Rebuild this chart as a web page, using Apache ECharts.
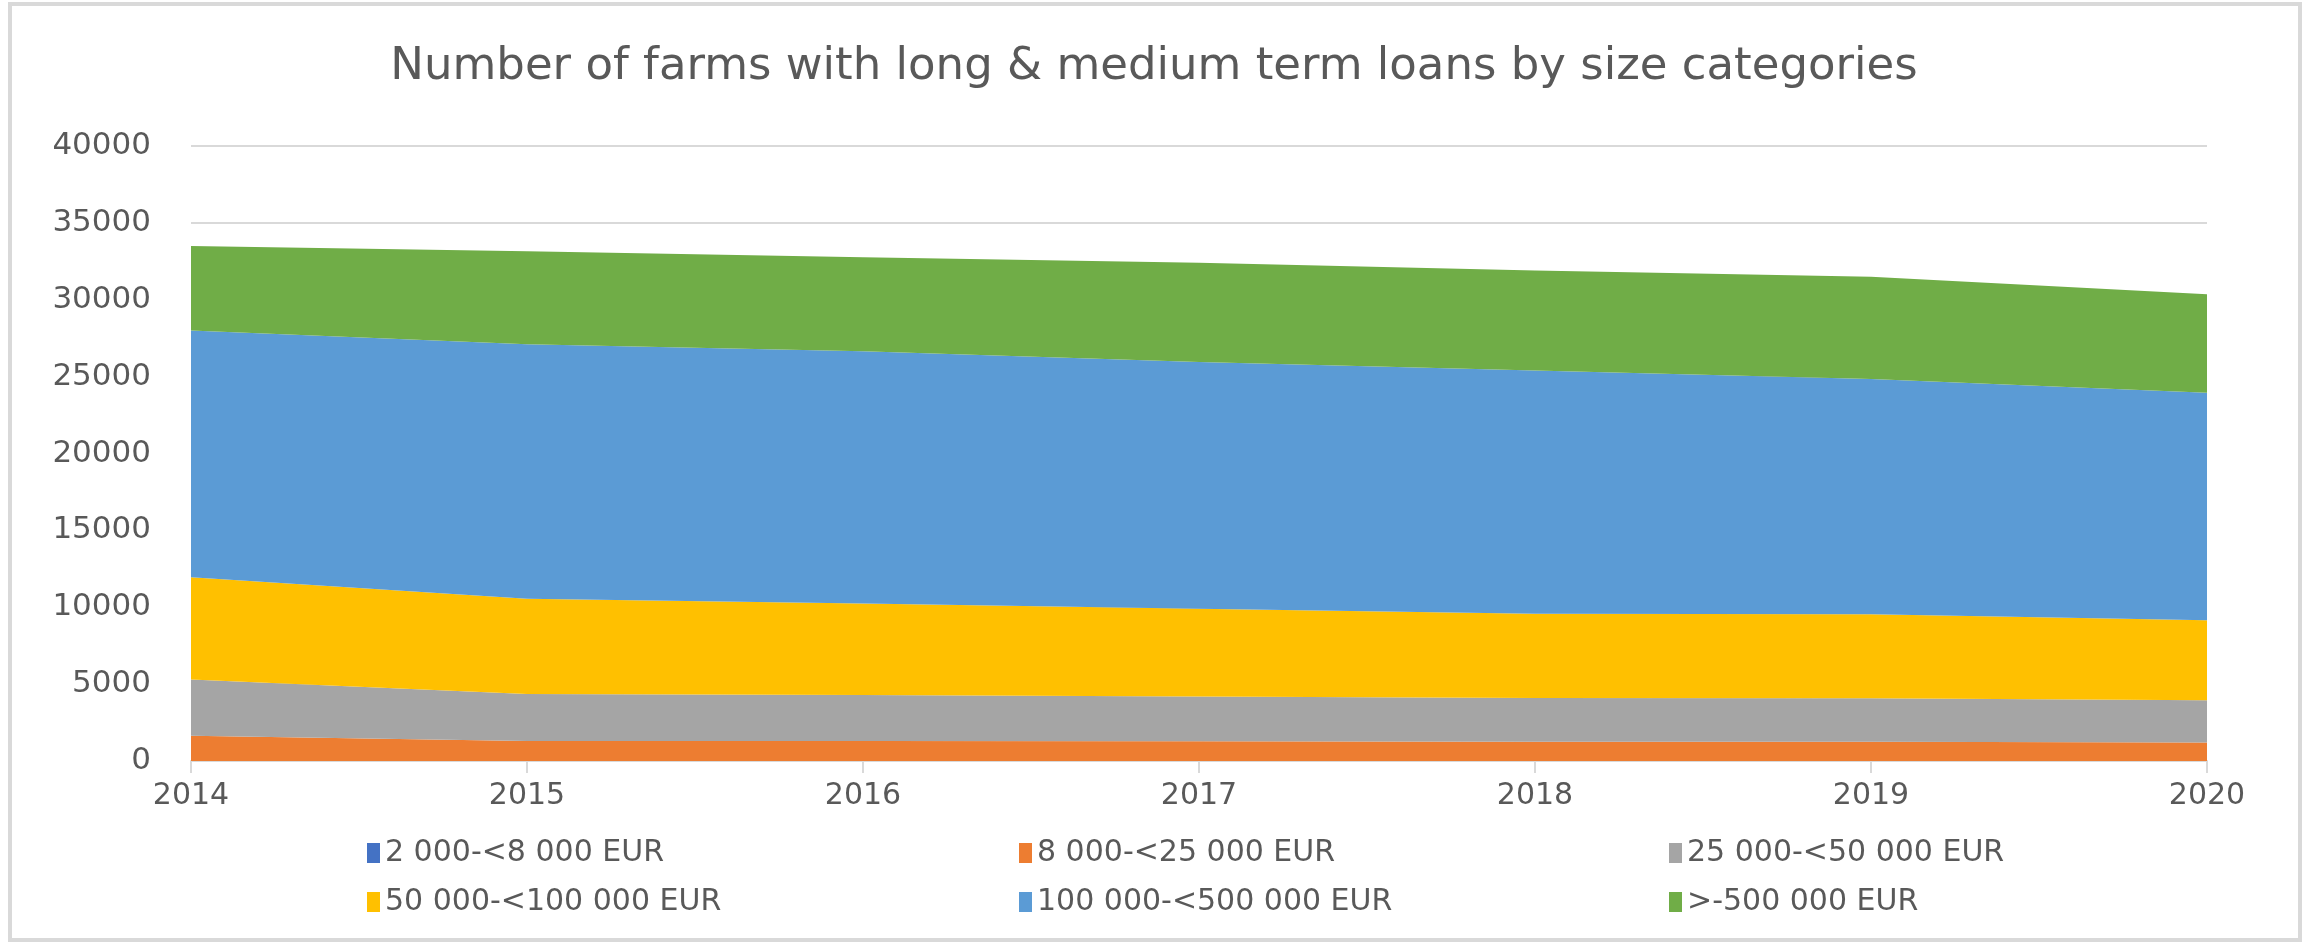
<!DOCTYPE html>
<html>
<head>
<meta charset="utf-8">
<script src="https://cdn.jsdelivr.net/npm/echarts@6/dist/echarts.min.js"></script>
<style>
  html, body { margin: 0; padding: 0; background: #fff; }
  #chart { width: 2308px; height: 945px; }
</style>
</head>
<body>
<div id="chart"></div>
<script>
// data
const years = ['2014', '2015', '2016', '2017', '2018', '2019', '2020'];
const seriesNames = [
  '2 000-<8 000 EUR',
  '8 000-<25 000 EUR',
  '25 000-<50 000 EUR',
  '50 000-<100 000 EUR',
  '100 000-<500 000 EUR',
  '>-500 000 EUR'
];
const size2to8 = [0, 0, 0, 0, 0, 0, 0];
const size8to25 = [1650, 1300, 1300, 1280, 1250, 1250, 1200];
const size25to50 = [3650, 3050, 3000, 2920, 2850, 2830, 2750];
const size50to100 = [6650, 6210, 5950, 5700, 5480, 5470, 5200];
const size100to500 = [16050, 16540, 16400, 16050, 15820, 15300, 14800];
const sizeOver500 = [5500, 6050, 6120, 6450, 6500, 6650, 6400];

const colors = ['#4472C4', '#ED7D31', '#A5A5A5', '#FFC000', '#5B9BD5', '#70AD47'];
const values = [size2to8, size8to25, size25to50, size50to100, size100to500, sizeOver500];

const textColor = '#595959';
const font = 'DejaVu Sans';

const chart = echarts.init(document.getElementById('chart'));

// one legend per item so they sit in three fixed columns
const legendLeft = [362, 1014, 1664];
const legendTop = [833, 882];
const legends = seriesNames.map((name, i) => ({
  data: [name],
  left: legendLeft[i % 3],
  top: legendTop[Math.floor(i / 3)],
  icon: 'rect',
  itemWidth: 13,
  itemHeight: 20,
  itemGap: 0,
  selectedMode: false,
  textStyle: { fontFamily: font, fontSize: 30, color: textColor, padding: [0, 0, 0, 0] }
}));

const option = {
  animation: false,
  color: colors,
  title: {
    text: 'Number of farms with long & medium term loans by size categories',
    left: 'center',
    top: 40,
    textStyle: { fontFamily: font, fontSize: 45, fontWeight: 'normal', color: textColor }
  },
  legend: legends,
  grid: { left: 191, right: 101, top: 146, bottom: 184 },
  xAxis: {
    type: 'category',
    boundaryGap: false,
    data: years,
    axisLine: { lineStyle: { color: '#d9d9d9', width: 2 } },
    axisTick: { show: true, length: 12, lineStyle: { color: '#d9d9d9', width: 2 } },
    axisLabel: { fontFamily: font, fontSize: 30, color: textColor, margin: 20 }
  },
  yAxis: {
    type: 'value',
    min: 0,
    max: 40000,
    interval: 5000,
    axisLine: { show: false },
    axisTick: { show: false },
    splitLine: { lineStyle: { color: '#d9d9d9', width: 2 } },
    axisLabel: {
      fontFamily: font, fontSize: 31, color: textColor, margin: 40,
      formatter: v => String(v)
    }
  },
  graphic: [{
    type: 'rect',
    shape: { x: 10, y: 4, width: 2290, height: 936 },
    style: { fill: 'none', stroke: '#d9d9d9', lineWidth: 4 },
    silent: true
  }],
  series: seriesNames.map((name, i) => ({
    name: name,
    type: 'line',
    stack: 'total',
    data: values[i],
    symbol: 'none',
    lineStyle: { width: 0 },
    areaStyle: { color: colors[i], opacity: 1 },
    itemStyle: { color: colors[i] }
  }))
};

chart.setOption(option);
</script>
</body>
</html>
